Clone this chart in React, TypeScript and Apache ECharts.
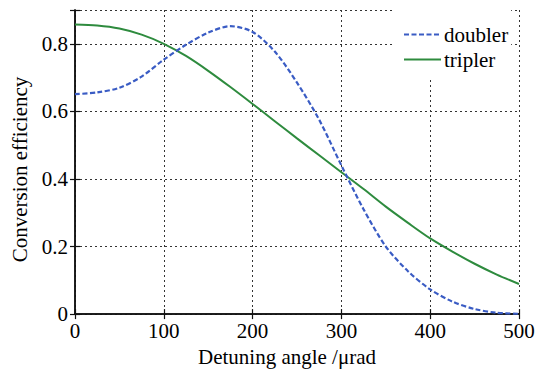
import React, { useEffect, useRef } from "react";
import * as echarts from "echarts";

const xValues = [0, 25, 50, 75, 100, 125, 150, 175, 200, 225, 250, 275, 300, 325, 350, 375, 400, 425, 450, 475, 500];
const doubler = [0.651, 0.656, 0.67, 0.703, 0.753, 0.797, 0.833, 0.852, 0.835, 0.777, 0.685, 0.575, 0.44, 0.31, 0.2, 0.127, 0.073, 0.037, 0.015, 0.004, 0.001];
const tripler = [0.857, 0.854, 0.845, 0.827, 0.8, 0.764, 0.72, 0.672, 0.622, 0.571, 0.52, 0.47, 0.42, 0.37, 0.318, 0.27, 0.224, 0.185, 0.149, 0.117, 0.089];
const xTicks = [0, 100, 200, 300, 400, 500];
const yTicks = [0, 0.2, 0.4, 0.6, 0.8];
const seriesNames = ["doubler", "tripler"];

const FONT = "Liberation Serif";
const BLUE = "#3a5cc4";
const GREEN = "#2e8b3e";

export default function App() {
  const ref = useRef<HTMLDivElement>(null);
  useEffect(() => {
    if (!ref.current) return;
    const chart = echarts.init(ref.current, undefined, { renderer: "svg" });
    const toPairs = (ys: number[]) => xValues.map((x, i) => [x, ys[i]]);
    const grid = { left: 75, right: 34, top: 10, bottom: 53 };
    const splitStyle = { show: true, lineStyle: { color: "#333", type: [2, 3], width: 1 } };
    const axisLine = { show: true, lineStyle: { color: "#111", width: 1.5 } };
    const tick = { show: true, inside: true, length: 5, lineStyle: { color: "#111", width: 1.2 } };
    chart.setOption({
      animation: false,
      backgroundColor: "#fff",
      grid,
      legend: {
        data: seriesNames,
        orient: "vertical",
        left: 393,
        top: 10,
        backgroundColor: "#fff",
        padding: [14, 3, 9, 10],
        itemWidth: 37,
        itemHeight: 14,
        itemGap: 4,
        itemStyle: { opacity: 0 },
        textStyle: { fontFamily: FONT, fontSize: 21, color: "#000", padding: [0, 0, 0, -2] },
      },
      xAxis: [
        {
          type: "value",
          min: 0,
          max: 500,
          interval: 100,
          name: "Detuning angle /μrad",
          nameLocation: "middle",
          nameGap: 31,
          nameTextStyle: { fontFamily: FONT, fontSize: 21, color: "#000", padding: [0, 20, 0, 0] },
          axisLine,
          axisTick: tick,
          axisLabel: { fontFamily: FONT, fontSize: 21, color: "#000", margin: 6, formatter: (v: number) => (xTicks.includes(v) ? String(v) : "") },
          splitLine: splitStyle,
        },
        {
          type: "value",
          position: "top",
          min: 0,
          max: 500,
          interval: 100,
          axisLine,
          axisTick: tick,
          axisLabel: { show: false },
          splitLine: { show: false },
        },
      ],
      yAxis: [
        {
          type: "value",
          min: 0,
          max: 0.9,
          interval: 0.2,
          name: "Conversion efficiency",
          nameLocation: "middle",
          nameGap: 44,
          nameTextStyle: { fontFamily: FONT, fontSize: 21, color: "#000", padding: [0, 15, 0, 0] },
          axisLine,
          axisTick: tick,
          axisLabel: {
            fontFamily: FONT,
            fontSize: 21,
            color: "#000",
            margin: 7,
            formatter: (v: number) => {
              const t = yTicks.find((y) => Math.abs(y - v) < 1e-6);
              if (t === undefined) return "";
              return t === 0 ? "0" : t.toFixed(1);
            },
          },
          splitLine: splitStyle,
        },
        {
          type: "value",
          position: "right",
          min: 0,
          max: 0.9,
          interval: 0.2,
          axisLine,
          axisTick: tick,
          axisLabel: { show: false },
          splitLine: { show: false },
        },
      ],
      series: [
        {
          name: seriesNames[0],
          type: "line",
          smooth: 0.3,
          symbol: "none",
          data: toPairs(doubler),
          lineStyle: { color: BLUE, width: 2.2, type: [5, 2.5] },
          itemStyle: { color: BLUE },
          z: 3,
        },
        {
          name: seriesNames[1],
          type: "line",
          smooth: 0.3,
          symbol: "none",
          data: toPairs(tripler),
          lineStyle: { color: GREEN, width: 2, type: "solid" },
          itemStyle: { color: GREEN },
          z: 2,
        },
      ],
    });
    return () => chart.dispose();
  }, []);
  return <div ref={ref} style={{ width: 553, height: 372, position: "absolute", left: 0, top: 0 }} />;
}
